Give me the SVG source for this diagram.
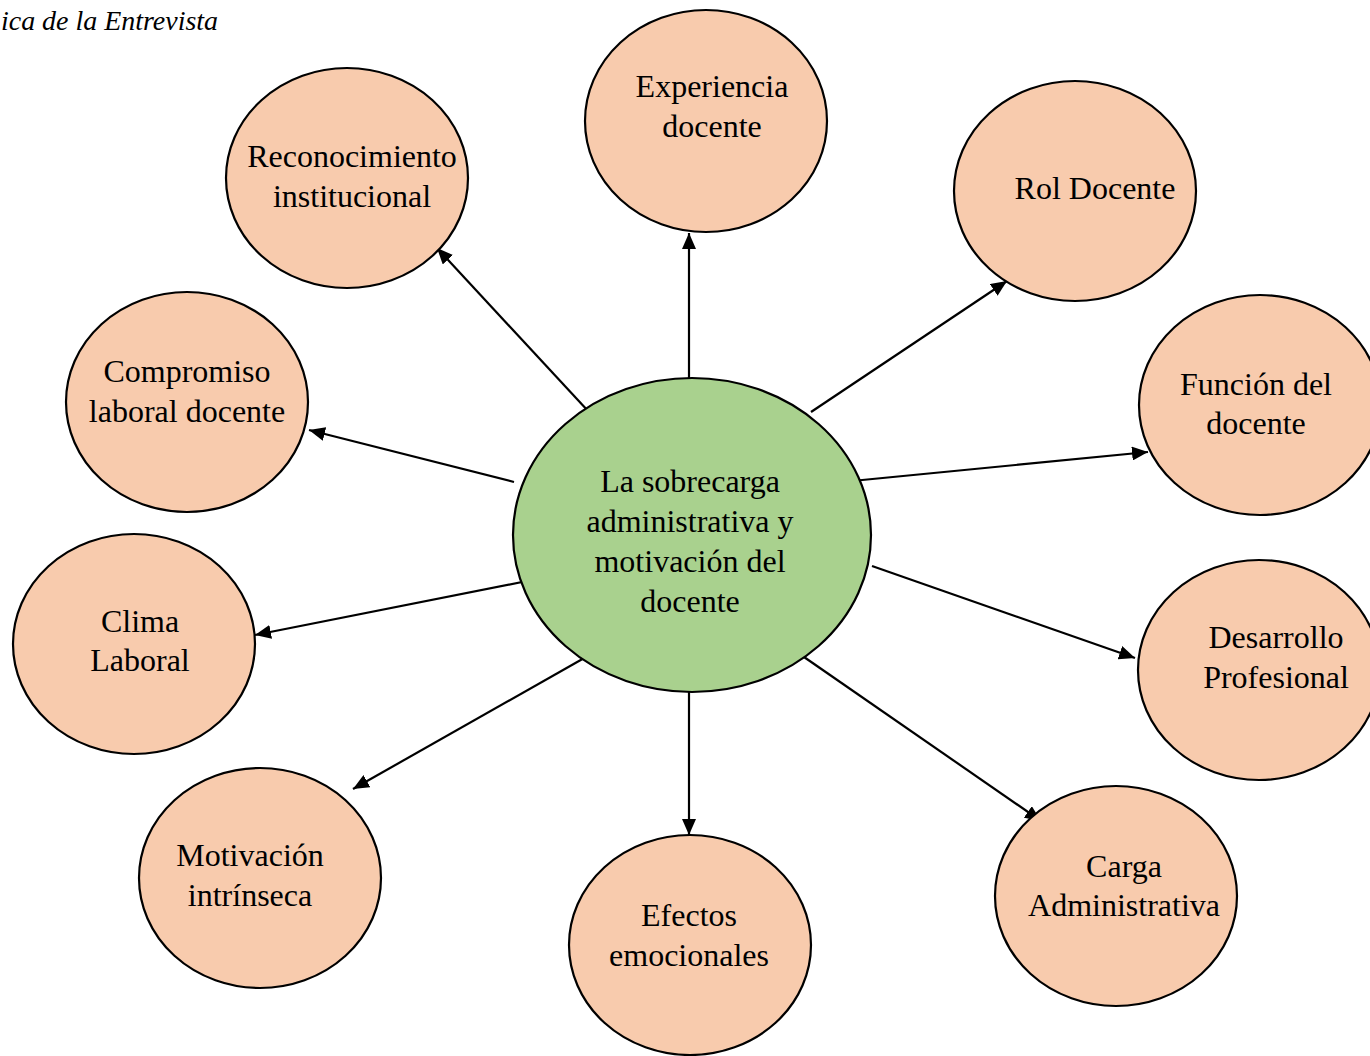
<svg xmlns="http://www.w3.org/2000/svg" width="1370" height="1056" viewBox="0 0 1370 1056">
<style>
.n{fill:#F8CBAD;stroke:#000;stroke-width:2.2}
.c{fill:#A9D18E;stroke:#000;stroke-width:2.2}
.t{font-family:"Liberation Serif","Times New Roman",serif;font-size:32px;fill:#000;text-anchor:middle}
.e{stroke:#000;stroke-width:2.2;fill:none;marker-end:url(#ah)}
.title{font-family:"Liberation Serif","Times New Roman",serif;font-size:28px;font-style:italic;fill:#000}
</style>
<defs>
<marker id="ah" markerUnits="userSpaceOnUse" markerWidth="18" markerHeight="14" refX="16" refY="7" orient="auto">
<path d="M0,0 L16,7 L0,14 Z" fill="#000"/>
</marker>
</defs>
<rect width="1370" height="1056" fill="#fff"/>
<text class="title" x="1" y="30" textLength="217" lengthAdjust="spacingAndGlyphs">ica de la Entrevista</text>
<g id="edges">
<line class="e" x1="689" y1="378" x2="689" y2="233"/>
<line class="e" x1="589" y1="412" x2="437" y2="248"/>
<line class="e" x1="811" y1="412" x2="1007" y2="281"/>
<line class="e" x1="514" y1="482" x2="309" y2="430"/>
<line class="e" x1="852" y1="481" x2="1148" y2="452"/>
<line class="e" x1="527" y1="581" x2="255" y2="635"/>
<line class="e" x1="872" y1="566" x2="1135" y2="658"/>
<line class="e" x1="586" y1="657" x2="353" y2="789"/>
<line class="e" x1="689" y1="692" x2="689" y2="835"/>
<line class="e" x1="804" y1="657" x2="1041" y2="821"/>
</g>
<g id="center">
<ellipse class="c" cx="692" cy="535" rx="179" ry="157"/>
<text class="t" x="690" y="492">La sobrecarga</text>
<text class="t" x="690" y="532">administrativa y</text>
<text class="t" x="690" y="572">motivación del</text>
<text class="t" x="690" y="612">docente</text>
</g>
<g id="experiencia">
<ellipse class="n" cx="706" cy="121" rx="121" ry="111"/>
<text class="t" x="712" y="97">Experiencia</text>
<text class="t" x="712" y="137">docente</text>
</g>
<g id="reconocimiento">
<ellipse class="n" cx="347" cy="178" rx="121" ry="110"/>
<text class="t" x="352" y="167">Reconocimiento</text>
<text class="t" x="352" y="207">institucional</text>
</g>
<g id="rol">
<ellipse class="n" cx="1075" cy="191" rx="121" ry="110"/>
<text class="t" x="1095" y="199">Rol Docente</text>
</g>
<g id="compromiso">
<ellipse class="n" cx="187" cy="402" rx="121" ry="110"/>
<text class="t" x="187" y="382">Compromiso</text>
<text class="t" x="187" y="422">laboral docente</text>
</g>
<g id="funcion">
<ellipse class="n" cx="1260" cy="405" rx="121" ry="110"/>
<text class="t" x="1256" y="395">Función del</text>
<text class="t" x="1256" y="434">docente</text>
</g>
<g id="clima">
<ellipse class="n" cx="134" cy="644" rx="121" ry="110"/>
<text class="t" x="140" y="632">Clima</text>
<text class="t" x="140" y="671">Laboral</text>
</g>
<g id="desarrollo">
<ellipse class="n" cx="1259" cy="670" rx="121" ry="110"/>
<text class="t" x="1276" y="648">Desarrollo</text>
<text class="t" x="1276" y="688">Profesional</text>
</g>
<g id="motivacion">
<ellipse class="n" cx="260" cy="878" rx="121" ry="110"/>
<text class="t" x="250" y="866">Motivación</text>
<text class="t" x="250" y="906">intrínseca</text>
</g>
<g id="efectos">
<ellipse class="n" cx="690" cy="945" rx="121" ry="110"/>
<text class="t" x="689" y="926">Efectos</text>
<text class="t" x="689" y="966">emocionales</text>
</g>
<g id="carga">
<ellipse class="n" cx="1116" cy="896" rx="121" ry="110"/>
<text class="t" x="1124" y="877">Carga</text>
<text class="t" x="1124" y="916">Administrativa</text>
</g>
</svg>
